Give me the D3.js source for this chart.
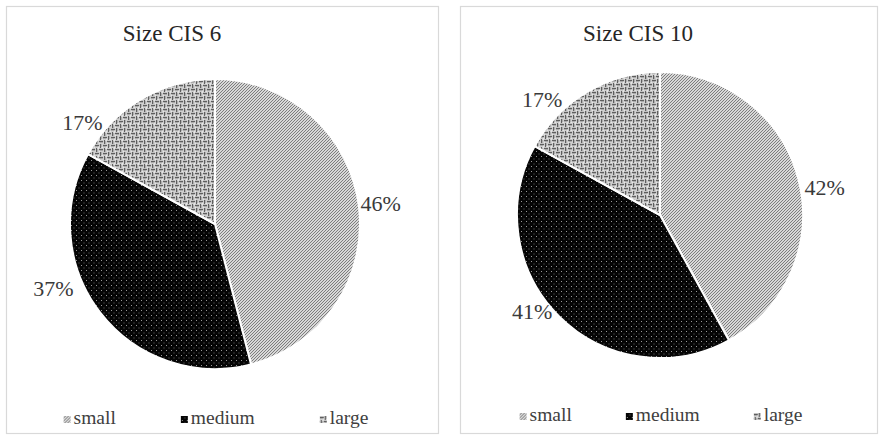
<!DOCTYPE html>
<html>
<head>
<meta charset="utf-8">
<script src="https://cdn.jsdelivr.net/npm/d3@7/dist/d3.min.js"></script>
<style>
  html, body { margin: 0; padding: 0; background: #fff; }
  svg { display: block; }
</style>
</head>
<body>
<svg id="chart" width="880" height="436"></svg>
<script>
// ---- data ----
const categories = ["small", "medium", "large"];
const titles = ["Size CIS 6", "Size CIS 10"];
const cis6Values = [46, 37, 17];
const cis10Values = [42, 41, 17];

// ---- layout (not data) ----
const FONT = "'Liberation Serif', 'DejaVu Serif', 'Noto Serif', Tinos, 'Times New Roman', serif";
const panels = [
  { x0: 6, y0: 6, x1: 438, y1: 433, cx: 215, cy: 224, r: 145, titleX: 172, titleY: 41,
    legendY: 424, legendGap: 65, labelShift: [0, 16, -22], labelDist: [167, 174, 167], values: cis6Values, title: titles[0] },
  { x0: 460, y0: 6, x1: 877, y1: 433, cx: 660, cy: 215, r: 143, titleX: 638, titleY: 41,
    legendY: 421, legendGap: 54, labelShift: [5, 8, -15], labelDist: [167, 160, 165], values: cis10Values, title: titles[1] }
];

const svg = d3.select("#chart").style("font-family", FONT);
const defs = svg.append("defs");

// patterns
const pSmall = defs.append("pattern").attr("id", "pat-small")
  .attr("patternUnits", "userSpaceOnUse").attr("width", 3).attr("height", 3);
pSmall.append("rect").attr("width", 3).attr("height", 3).attr("fill", "#d8d8d8");
pSmall.append("path").attr("d", "M-1,1 L1,-1 M0,3 L3,0 M2,4 L4,2")
  .attr("stroke", "#737373").attr("stroke-width", 0.9);

const pMed = defs.append("pattern").attr("id", "pat-medium")
  .attr("patternUnits", "userSpaceOnUse").attr("width", 5).attr("height", 5);
pMed.append("rect").attr("width", 5).attr("height", 5).attr("fill", "#050505");
pMed.append("rect").attr("x", 1).attr("y", 1).attr("width", 1).attr("height", 1).attr("fill", "#9a9a9a");
pMed.append("rect").attr("x", 3.5).attr("y", 3.5).attr("width", 1).attr("height", 1).attr("fill", "#6a6a6a");

// basket-weave style pattern
const pLarge = defs.append("pattern").attr("id", "pat-large")
  .attr("patternUnits", "userSpaceOnUse").attr("width", 8).attr("height", 8);
pLarge.append("rect").attr("width", 8).attr("height", 8).attr("fill", "#e4e4e4");
pLarge.append("path")
  .attr("d", "M0,1.5 H4 M5.5,0 V4 M1.5,4 V8 M4,5.5 H8")
  .attr("stroke", "#5e5e5e").attr("stroke-width", 1.3).attr("fill", "none");
pLarge.append("path")
  .attr("d", "M0,2.8 H3 M6.8,0 V3 M2.8,5 V8 M5,6.8 H8")
  .attr("stroke", "#a0a0a0").attr("stroke-width", 1).attr("fill", "none");

const fillScale = d3.scaleOrdinal()
  .domain(categories)
  .range(["url(#pat-small)", "url(#pat-medium)", "url(#pat-large)"]);

const pie = d3.pie().sort(null).value(d => d.v);

panels.forEach(p => {
  const g = svg.append("g");
  g.append("rect")
    .attr("x", p.x0 + 0.5).attr("y", p.y0 + 0.5)
    .attr("width", p.x1 - p.x0).attr("height", p.y1 - p.y0)
    .attr("fill", "#fff").attr("stroke", "#d9d9d9").attr("stroke-width", 1.2);

  g.append("text")
    .attr("x", p.titleX).attr("y", p.titleY)
    .attr("text-anchor", "middle")
    .attr("font-family", FONT)
    .attr("font-size", 23).attr("fill", "#262626")
    .text(p.title);

  const data = categories.map((c, i) => ({ c, v: p.values[i] }));
  const arcs = pie(data);
  const arc = d3.arc().innerRadius(0).outerRadius(p.r);

  const pg = g.append("g").attr("transform", `translate(${p.cx},${p.cy})`);
  pg.selectAll("path.slice").data(arcs).join("path")
    .attr("class", "slice")
    .attr("d", arc)
    .attr("fill", d => fillScale(d.data.c))
    .attr("stroke", "#fff").attr("stroke-width", 2).attr("stroke-linejoin", "round");

  pg.selectAll("text.lbl").data(arcs).join("text")
    .attr("class", "lbl")
    .attr("transform", (d, i) => {
      const a = (d.startAngle + d.endAngle) / 2 + p.labelShift[i] * Math.PI / 180;
      const rr = p.labelDist[i];
      return `translate(${rr * Math.sin(a)},${-rr * Math.cos(a)})`;
    })
    .attr("text-anchor", "middle")
    .attr("dy", "0.35em")
    .attr("font-family", FONT)
    .attr("font-size", 22).attr("fill", "#3a3a3a")
    .text(d => d.data.v + "%");

  // legend
  const lg = g.append("g");
  const items = lg.selectAll("g.item").data(categories).join("g").attr("class", "item");
  items.append("rect")
    .attr("width", 7).attr("height", 7)
    .attr("y", -8)
    .attr("fill", d => fillScale(d));
  const txt = items.append("text")
    .attr("x", 10).attr("font-family", FONT).attr("font-size", 19.5).attr("fill", "#404040")
    .text(d => d);
  const widths = [];
  txt.each(function () { widths.push(10 + this.getComputedTextLength()); });
  const total = d3.sum(widths) + p.legendGap * (widths.length - 1);
  let xx = p.cx - total / 2 + 1;
  const offs = widths.map(w => { const o = xx; xx += w + p.legendGap; return o; });
  items.attr("transform", (d, i) => `translate(${offs[i]},${p.legendY})`);
});
</script>
</body>
</html>
